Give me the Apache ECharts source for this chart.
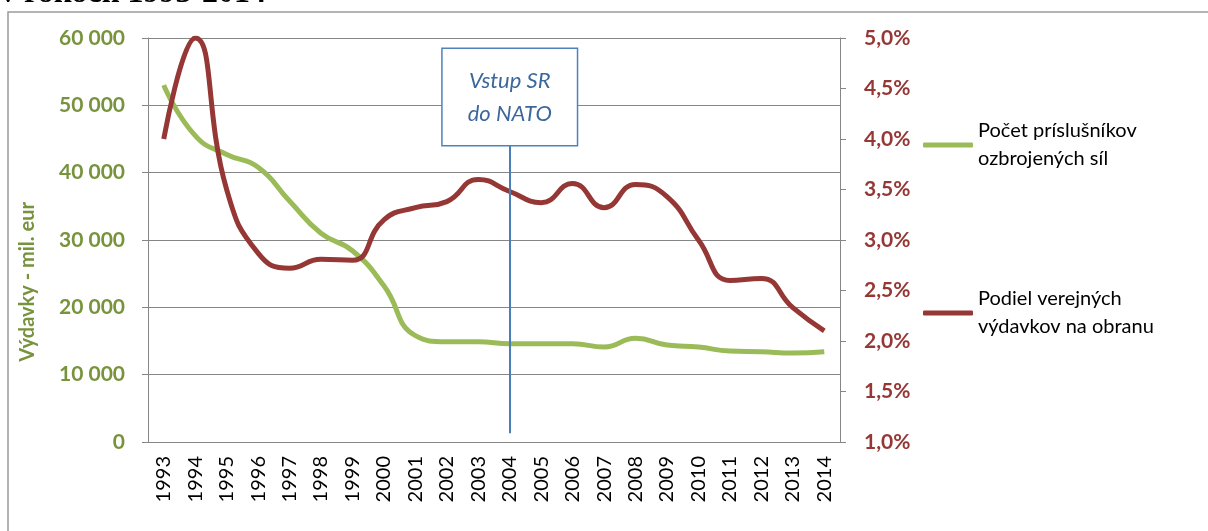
<!DOCTYPE html>
<html>
<head>
<meta charset="utf-8">
<script src="https://cdn.jsdelivr.net/npm/echarts@6/dist/echarts.min.js"></script>
<style>
  html, body { margin: 0; padding: 0; background: #fff; }
  #chart { width: 1208px; height: 531px; }
</style>
</head>
<body>
<div id="chart"></div>
<script>
// roky
const years = ['1993', '1994', '1995', '1996', '1997', '1998', '1999', '2000', '2001', '2002', '2003',
  '2004', '2005', '2006', '2007', '2008', '2009', '2010', '2011', '2012', '2013', '2014']

// pocet prislusnikov ozbrojenych sil (lava os)
const personnel = [53000, 45500, 42700, 40800, 35800, 31000, 28400, 23200, 15800, 14900, 14900,
  14600, 14600, 14600, 14100, 15400, 14400, 14100, 13500, 13400, 13200, 13400]

// podiel verejnych vydavkov na obranu v % (prava os)
const defenceShare = [4.0, 5.0, 3.5, 2.87, 2.72, 2.81, 2.8, 3.2, 3.32, 3.38, 3.6,
  3.48, 3.37, 3.56, 3.32, 3.55, 3.43, 3.0, 2.6, 2.62, 2.33, 2.1]

// vstup SR do NATO
const natoYear = '2004'
const natoLineRange = [1300, 44100]

const green = '#9bbb59'
const red = '#953735'
const greenLabel = '#77933c'
const gridGray = '#868686'
const font = 'Lato'

const chart = echarts.init(document.getElementById('chart'))

const option = {
  animation: false,
  textStyle: { fontFamily: font },
  grid: {
    left: 148,
    right: 368,
    top: 38,
    bottom: 89
  },
  legend: {
    orient: 'vertical',
    left: 923,
    top: 103,
    padding: 0,
    itemGap: 84,
    itemWidth: 50,
    itemHeight: 5,
    icon: 'roundRect',
    textStyle: {
      fontFamily: font,
      fontSize: 20,
      color: '#000',
      lineHeight: 28,
      padding: [28, 0, 0, 0]
    },
    formatter: name => name === 'Počet príslušníkov ozbrojených síl'
      ? 'Počet príslušníkov\nozbrojených síl'
      : 'Podiel verejných\nvýdavkov na obranu',
    data: ['Počet príslušníkov ozbrojených síl', 'Podiel verejných výdavkov na obranu']
  },
  xAxis: {
    type: 'category',
    data: years,
    boundaryGap: true,
    axisLine: { lineStyle: { color: gridGray, width: 1 } },
    axisTick: { length: 6, lineStyle: { color: gridGray } },
    axisLabel: {
      rotate: 90,
      margin: 14,
      fontFamily: font,
      fontSize: 20,
      color: '#000'
    }
  },
  yAxis: [
    {
      type: 'value',
      min: 0,
      max: 60000,
      interval: 10000,
      axisLine: { show: true, lineStyle: { color: gridGray, width: 1 } },
      axisTick: { show: true, length: 6, lineStyle: { color: gridGray } },
      splitLine: { lineStyle: { color: gridGray, width: 1 } },
      axisLabel: {
        margin: 23,
        fontFamily: font,
        fontSize: 21,
        fontWeight: 'bold',
        color: greenLabel,
        formatter: v => v === 0 ? '0' : String(v).replace(/\B(?=(\d{3})+(?!\d))/g, ' ')
      }
    },
    {
      type: 'value',
      min: 1,
      max: 5,
      interval: 0.5,
      axisLine: { show: true, lineStyle: { color: gridGray, width: 1 } },
      axisTick: { show: true, length: 6, lineStyle: { color: gridGray } },
      splitLine: { show: false },
      axisLabel: {
        margin: 24,
        fontFamily: font,
        fontSize: 21,
        fontWeight: 'bold',
        color: red,
        formatter: v => v.toFixed(1).replace('.', ',') + '%'
      }
    }
  ],
  graphic: [
    {
      type: 'rect',
      shape: { x: 8, y: 12, width: 1400, height: 700 },
      style: { fill: 'none', stroke: '#9a9a9a', lineWidth: 1.5 },
      silent: true
    },
    {
      type: 'text',
      x: 0,
      y: 10,
      style: {
        text: 'v rokoch 1993-2014',
        font: 'bold 32px "Liberation Serif"',
        fill: '#000',
        verticalAlign: 'bottom'
      },
      silent: true
    },
    {
      type: 'text',
      x: 28,
      y: 282,
      rotation: Math.PI / 2,
      style: {
        text: 'Výdavky - mil. eur',
        font: 'bold 20px Lato',
        fill: greenLabel,
        align: 'center',
        verticalAlign: 'middle'
      },
      silent: true
    }
  ],
  series: [
    {
      name: 'Počet príslušníkov ozbrojených síl',
      type: 'line',
      yAxisIndex: 0,
      data: personnel,
      smooth: 0.5,
      symbol: 'none',
      lineStyle: { color: green, width: 5 },
      itemStyle: { color: green },
      markLine: {
        silent: true,
        symbol: 'none',
        lineStyle: { color: '#4a7ebb', width: 2, type: 'solid' },
        label: {
          show: true,
          position: 'end',
          distance: 0,
          formatter: 'Vstup SR\ndo NATO',
          fontFamily: font,
          fontStyle: 'italic',
          fontSize: 22,
          lineHeight: 33,
          color: '#3c679b',
          backgroundColor: '#fff',
          borderColor: '#4f81bd',
          borderWidth: 1.5,
          padding: [15, 25, 15, 25]
        },
        data: [
          [
            { coord: [natoYear, natoLineRange[0]] },
            { coord: [natoYear, natoLineRange[1]] }
          ]
        ]
      }
    },
    {
      name: 'Podiel verejných výdavkov na obranu',
      type: 'line',
      yAxisIndex: 1,
      data: defenceShare,
      smooth: 0.5,
      symbol: 'none',
      lineStyle: { color: red, width: 5 },
      itemStyle: { color: red }
    }
  ]
}

chart.setOption(option)
</script>
</body>
</html>
